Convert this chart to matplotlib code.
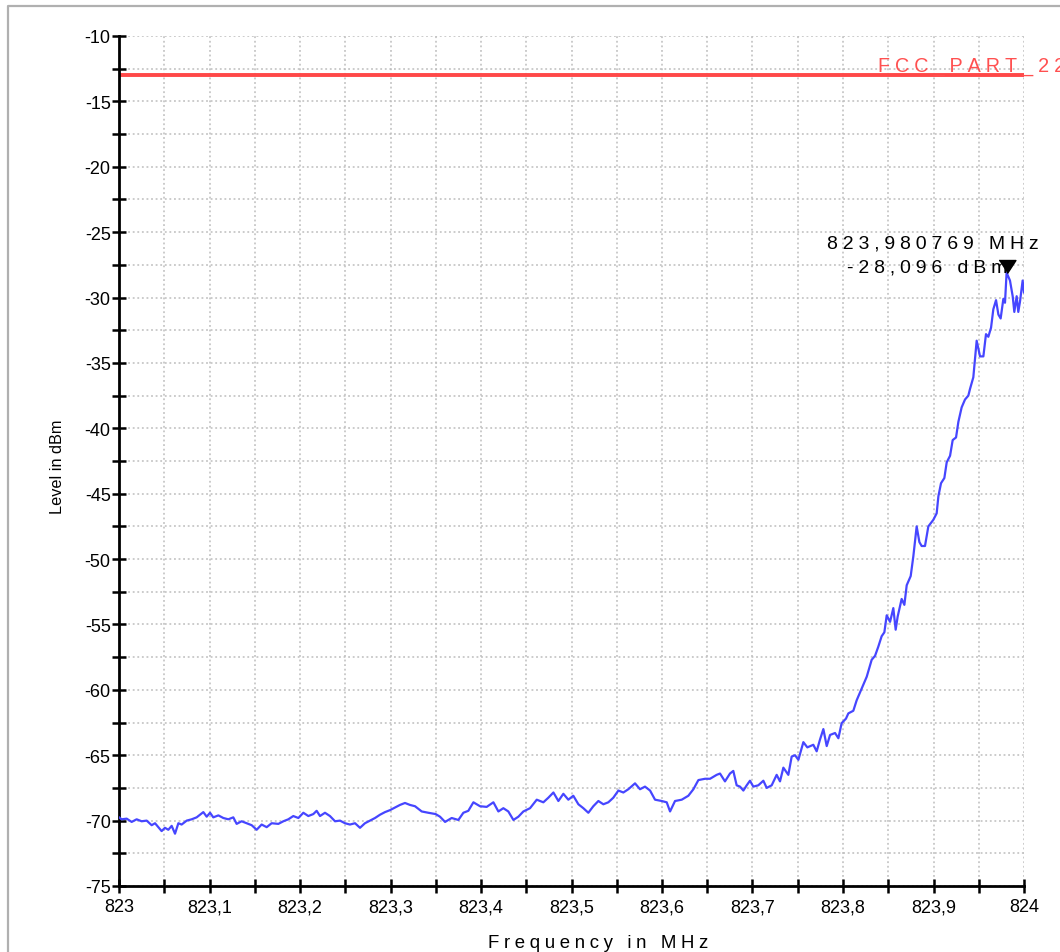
import matplotlib
matplotlib.use('Agg')
import matplotlib.pyplot as plt
from matplotlib.lines import Line2D
from matplotlib.ticker import MultipleLocator, FuncFormatter

plt.rcParams['font.family'] = ['Liberation Sans', 'DejaVu Sans']
plt.rcParams['axes.unicode_minus'] = False

# trace: offset from 823 MHz, level in dBm
f_start = 823.0
f_stop = 824.0
freq_offset = [
    0.0000, 0.0029, 0.0085, 0.0140, 0.0195, 0.0250, 0.0306, 0.0361, 0.0398, 0.0435,
    0.0471, 0.0508, 0.0545, 0.0582, 0.0619, 0.0656, 0.0692, 0.0748, 0.0803, 0.0858,
    0.0895, 0.0932, 0.0969, 0.1006, 0.1042, 0.1098, 0.1153, 0.1208, 0.1263, 0.1300,
    0.1355, 0.1411, 0.1466, 0.1521, 0.1576, 0.1632, 0.1687, 0.1761, 0.1816, 0.1871,
    0.1926, 0.1982, 0.2037, 0.2092, 0.2147, 0.2184, 0.2221, 0.2276, 0.2331, 0.2387,
    0.2442, 0.2497, 0.2552, 0.2608, 0.2663, 0.2718, 0.2773, 0.2829, 0.2884, 0.2939,
    0.2994, 0.3050, 0.3105, 0.3160, 0.3215, 0.3271, 0.3345, 0.3418, 0.3499, 0.3547,
    0.3603, 0.3676, 0.3750, 0.3805, 0.3860, 0.3916, 0.3989, 0.4063, 0.4137, 0.4192,
    0.4247, 0.4302, 0.4358, 0.4413, 0.4468, 0.4542, 0.4616, 0.4689, 0.4744, 0.4800,
    0.4855, 0.4910, 0.4965, 0.5020, 0.5076, 0.5131, 0.5186, 0.5241, 0.5297, 0.5352,
    0.5407, 0.5462, 0.5518, 0.5573, 0.5628, 0.5702, 0.5757, 0.5812, 0.5868, 0.5923,
    0.5997, 0.6052, 0.6089, 0.6144, 0.6218, 0.6291, 0.6347, 0.6402, 0.6476, 0.6531,
    0.6604, 0.6641, 0.6696, 0.6751, 0.6788, 0.6825, 0.6862, 0.6899, 0.6936, 0.6972,
    0.7009, 0.7064, 0.7120, 0.7157, 0.7212, 0.7267, 0.7304, 0.7341, 0.7396, 0.7433,
    0.7470, 0.7507, 0.7562, 0.7606, 0.7672, 0.7709, 0.7746, 0.7783, 0.7820, 0.7857,
    0.7912, 0.7949, 0.7985, 0.8033, 0.8059, 0.8114, 0.8151, 0.8206, 0.8262, 0.8317,
    0.8354, 0.8390, 0.8427, 0.8457, 0.8483, 0.8520, 0.8556, 0.8582, 0.8604, 0.8648,
    0.8678, 0.8704, 0.8748, 0.8777, 0.8814, 0.8844, 0.8869, 0.8906, 0.8943, 0.8998,
    0.9035, 0.9054, 0.9083, 0.9120, 0.9146, 0.9183, 0.9212, 0.9249, 0.9275, 0.9311,
    0.9348, 0.9385, 0.9403, 0.9440, 0.9477, 0.9514, 0.9551, 0.9580, 0.9606, 0.9636,
    0.9661, 0.9691, 0.9717, 0.9742, 0.9772, 0.9790, 0.980769, 0.9845, 0.9875, 0.9893,
    0.9919, 0.9937, 0.9956, 0.9985, 1.0000,
]
level_dbm = [
    -69.75, -69.9, -69.85, -70.1, -69.9, -70.05, -70.0, -70.35, -70.2, -70.5,
    -70.8, -70.55, -70.7, -70.4, -71.0, -70.2, -70.3, -70.0, -69.9, -69.75,
    -69.55, -69.35, -69.7, -69.4, -69.75, -69.6, -69.8, -69.9, -69.75, -70.25,
    -70.05, -70.2, -70.35, -70.7, -70.3, -70.5, -70.2, -70.25, -70.05, -69.9,
    -69.65, -69.8, -69.4, -69.65, -69.5, -69.25, -69.65, -69.4, -69.65, -70.05,
    -70.0, -70.2, -70.3, -70.2, -70.55, -70.2, -70.0, -69.8, -69.55, -69.35,
    -69.2, -69.0, -68.8, -68.65, -68.8, -68.9, -69.3, -69.4, -69.5, -69.7,
    -70.1, -69.8, -69.95, -69.4, -69.25, -68.6, -68.9, -68.95, -68.6, -69.3,
    -69.05, -69.3, -69.95, -69.7, -69.3, -69.05, -68.4, -68.6, -68.25, -67.85,
    -68.5, -67.95, -68.4, -68.1, -68.75, -69.05, -69.4, -68.9, -68.5, -68.75,
    -68.6, -68.25, -67.7, -67.85, -67.6, -67.15, -67.6, -67.4, -67.7, -68.4,
    -68.5, -68.6, -69.3, -68.5, -68.4, -68.1, -67.6, -66.9, -66.8, -66.8,
    -66.5, -66.4, -67.0, -66.4, -66.2, -67.3, -67.4, -67.7, -67.3, -66.95,
    -67.4, -67.3, -66.95, -67.5, -67.3, -66.5, -67.0, -65.95, -66.5, -65.1,
    -65.0, -65.35, -64.0, -64.4, -64.2, -64.7, -63.8, -63.0, -64.3, -63.45,
    -63.3, -63.7, -62.55, -62.2, -61.8, -61.6, -60.8, -59.9, -59.0, -57.7,
    -57.4, -56.7, -55.9, -55.6, -54.3, -54.8, -53.75, -55.4, -54.4, -53.05,
    -53.5, -52.0, -51.3, -49.8, -47.5, -48.7, -49.0, -49.0, -47.5, -47.0,
    -46.5, -45.2, -44.2, -43.8, -42.6, -42.1, -40.9, -40.7, -39.5, -38.4,
    -37.8, -37.5, -37.0, -36.1, -33.3, -34.5, -34.5, -32.8, -33.0, -32.3,
    -30.9, -30.2, -31.3, -31.6, -30.1, -30.4, -28.096, -28.7, -29.9, -31.1,
    -29.9, -31.1, -30.3, -28.7, -29.6,
]
freq_mhz = [f_start + f for f in freq_offset]

limit_name = 'FCC_PART_22'
limit_level = -13.0
marker_freq = 823.980769
marker_level = -28.096


def spaced(s, gap='\u2005'):
    # the analyzer software letter-spaces its labels
    return gap.join(s)


fig = plt.figure(figsize=(10.6, 9.53), dpi=100)
ax = fig.add_axes([119 / 1060, 66 / 953, 905 / 1060, 850 / 953])

ax.plot(freq_mhz, level_dbm, color='#4646ff', lw=1.6, zorder=3)
ax.plot([f_start, f_stop], [limit_level, limit_level], color='#ff4848', lw=2.8, zorder=2)
ax.text(823.8387, limit_level + 0.33, spaced(limit_name), color='#ff5050',
        fontsize=14.2, ha='left', va='baseline', clip_on=False)

# marker: downward triangle with its tip on the point
tri = [(-0.65, 1.0), (0.65, 1.0), (0.0, 0.0)]
ax.plot([marker_freq], [marker_level], marker=tri, ms=18.7, color='black',
        ls='none', zorder=5, clip_on=False)
f_txt = f'{marker_freq:.6f}'.replace('.', ',') + ' MHz'
l_txt = f'{marker_level:.3f}'.replace('.', ',') + ' dBm'
ax.annotate(spaced(f_txt), (marker_freq, marker_level), xytext=(-74, 25),
            textcoords='offset pixels', ha='center', va='baseline', fontsize=14)
ax.annotate(spaced(l_txt), (marker_freq, marker_level), xytext=(-79, 1),
            textcoords='offset pixels', ha='center', va='baseline', fontsize=14)

ax.set_xlim(f_start, f_stop)
ax.set_ylim(-75, -10)
ax.xaxis.set_major_locator(MultipleLocator(0.1))
ax.xaxis.set_minor_locator(MultipleLocator(0.05))
ax.yaxis.set_major_locator(MultipleLocator(5))
ax.yaxis.set_minor_locator(MultipleLocator(2.5))
ax.xaxis.set_major_formatter(FuncFormatter(
    lambda v, p: f'{v:.1f}'.rstrip('0').rstrip('.').replace('.', ',')))
ax.yaxis.set_major_formatter(FuncFormatter(lambda v, p: f'{v:.0f}'))

ax.tick_params(axis='both', which='both', direction='inout', length=10, width=1.8,
               labelsize=13)
ax.tick_params(axis='x', which='major', pad=4)
ax.tick_params(axis='y', which='major', pad=1)

ax.grid(True, which='both', color='#bdbdbd', ls=(0, (1.2, 1.8)), lw=1.1)
ax.set_axisbelow(True)

ax.spines['top'].set_visible(False)
ax.spines['right'].set_visible(False)
ax.spines['left'].set_linewidth(2)
ax.spines['bottom'].set_linewidth(2)

ax.set_ylabel('Level in dBm', fontsize=11.7, va='center')
ax.yaxis.set_label_coords(-0.0685, 0.494)
ax.set_xlabel(spaced('Frequency in MHz'), fontsize=13.4, va='baseline')
ax.xaxis.set_label_coords(0.529, -0.0718)

# grey frame of the original screenshot
fig.add_artist(Line2D([8 / 1060, 8 / 1060, 1.0], [0.0, 1 - 7 / 953, 1 - 7 / 953],
                      transform=fig.transFigure, color='#b0b0b0', lw=1.6))

fig.savefig('out.png', dpi=100)
